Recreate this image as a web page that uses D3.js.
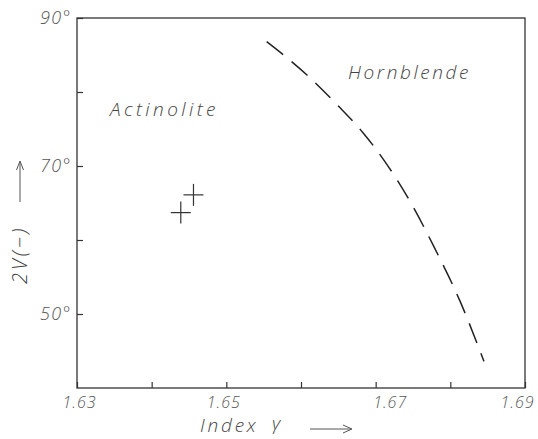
<!DOCTYPE html>
<html>
<head>
<meta charset="utf-8">
<script src="https://cdn.jsdelivr.net/npm/d3@7"></script>
<style>
  html, body { margin: 0; padding: 0; background: #fff; }
  svg { display: block; }
  text { font-family: "Open Sans", "DejaVu Sans", sans-serif; font-style: italic; font-weight: 300; fill: #444; }
</style>
</head>
<body>
<svg id="chart" width="538" height="439"></svg>
<script>
// ---- data ----
const xTickValues = [1.63, 1.64, 1.65, 1.66, 1.67, 1.68, 1.69];
const xTickLabels = ["1.63", "", "1.65", "", "1.67", "", "1.69"];
const yTickValues = [50, 60, 70, 80, 90];
const yTickLabels = ["50°", "", "70°", "", "90°"];

const actinoliteIndex = [1.6439, 1.6456];
const actinolite2V = [63.7, 66.1];

const hornblendeIndex = [1.6554, 1.6608, 1.6650, 1.6683, 1.6711, 1.6750, 1.6777, 1.6814, 1.6845];
const hornblende2V   = [86.8, 82.3, 78.1, 74.5, 70.8, 64.5, 59.3, 51.5, 43.6];

// ---- layout ----
const svg = d3.select("#chart");
const L = 77, R = 525, T = 18, B = 388;
const x = d3.scaleLinear().domain([1.63, 1.69]).range([L, R]);
const y = d3.scaleLinear().domain([40, 90]).range([B, T]);
const ink = "#333";
const xLabelShift = { "1.63": 2, "1.65": -3, "1.67": 14, "1.69": -8 };

// frame
svg.append("rect")
  .attr("x", L).attr("y", T).attr("width", R - L).attr("height", B - T)
  .attr("fill", "none").attr("stroke", ink).attr("stroke-width", 1.3);

// x axis (ticks inward)
const xAxis = d3.axisBottom(x).tickValues(xTickValues).tickSize(-6)
  .tickFormat((d, i) => xTickLabels[i]).tickPadding(9);
const gx = svg.append("g").attr("transform", `translate(0,${B})`).call(xAxis);
gx.select(".domain").remove();
gx.selectAll(".tick line").attr("stroke", ink).attr("stroke-width", 1.2);
gx.selectAll(".tick text").attr("font-size", 16).attr("letter-spacing", 1)
  .attr("dx", function () { return xLabelShift[this.textContent] || 0; })
  .style("fill", "#555");

// y axis (ticks inward)
const yAxis = d3.axisLeft(y).tickValues(yTickValues).tickSize(-6)
  .tickFormat((d, i) => yTickLabels[i]).tickPadding(5);
const gy = svg.append("g").attr("transform", `translate(${L},0)`).call(yAxis);
gy.select(".domain").remove();
gy.selectAll(".tick line").attr("stroke", ink).attr("stroke-width", 1.2);
gy.selectAll(".tick text").attr("font-size", 18).attr("letter-spacing", 1.5)
  .style("fill", "#555");

// crosses (actinolite)
const pts = actinoliteIndex.map((v, i) => [v, actinolite2V[i]]);
const cr = svg.append("g").attr("stroke", "#333").attr("stroke-width", 1.2);
pts.forEach(p => {
  const cx = x(p[0]), cy = y(p[1]);
  cr.append("line").attr("x1", cx - 10).attr("x2", cx + 10).attr("y1", cy).attr("y2", cy);
  cr.append("line").attr("x1", cx).attr("x2", cx).attr("y1", cy - 11).attr("y2", cy + 11);
});

// hornblende dashed curve
const curvePts = hornblendeIndex.map((v, i) => [v, hornblende2V[i]]);
svg.append("path")
  .datum(curvePts)
  .attr("d", d3.line().x(d => x(d[0])).y(d => y(d[1])).curve(d3.curveMonotoneX))
  .attr("fill", "none").attr("stroke", "#222").attr("stroke-width", 1.5)
  .attr("stroke-dasharray", "21,11");

// region labels
svg.append("text").attr("x", 110).attr("y", 116).attr("font-size", 19)
  .attr("letter-spacing", 3.4).text("Actinolite");
svg.append("text").attr("x", 348).attr("y", 79).attr("font-size", 19)
  .attr("letter-spacing", 2.6).text("Hornblende");

// x axis title
svg.append("text").attr("x", 200).attr("y", 432).attr("font-size", 19)
  .attr("letter-spacing", 2.8).text("Index");
svg.append("text").attr("x", 272).attr("y", 430).attr("font-size", 19).text("γ");
svg.append("line").attr("x1", 310).attr("x2", 351).attr("y1", 429).attr("y2", 429)
  .attr("stroke", "#555").attr("stroke-width", 1);
svg.append("path").attr("d", "M343,425 L352,429 L343,433")
  .attr("fill", "none").attr("stroke", "#555").attr("stroke-width", 1);

// y axis title (rotated)
svg.append("text").attr("transform", "translate(27,284) rotate(-90)")
  .attr("font-size", 20).attr("letter-spacing", 3).text("2V(−)");
svg.append("line").attr("x1", 20).attr("x2", 20).attr("y1", 202).attr("y2", 162)
  .attr("stroke", "#555").attr("stroke-width", 1);
svg.append("path").attr("d", "M16.5,170 L20,161 L23.5,170")
  .attr("fill", "none").attr("stroke", "#555").attr("stroke-width", 1);
</script>
</body>
</html>
